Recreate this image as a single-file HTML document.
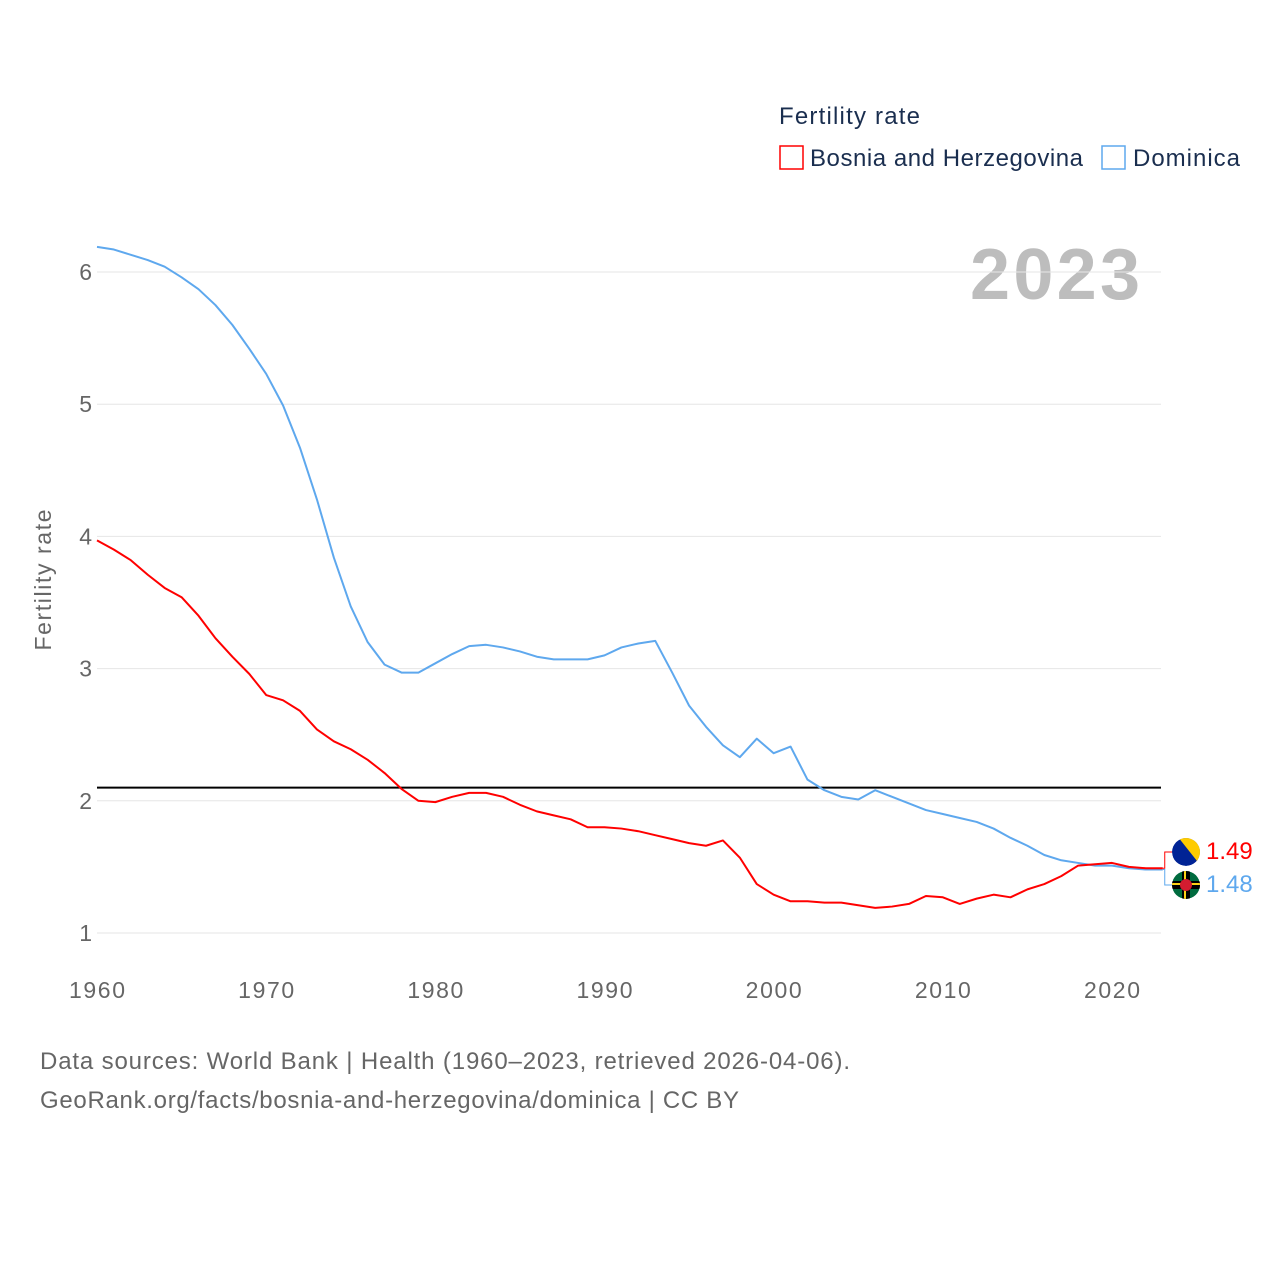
<!DOCTYPE html>
<html><head><meta charset="utf-8"><style>
body{margin:0;background:#fff;font-family:"Liberation Sans",sans-serif;}
svg text{font-family:"Liberation Sans",sans-serif;}
</style></head><body>
<svg id="chart" width="1280" height="1280" xmlns="http://www.w3.org/2000/svg">
<defs><clipPath id="cb"><circle cx="1186" cy="852" r="14"/></clipPath><clipPath id="cd"><circle cx="1186" cy="885" r="14"/></clipPath></defs>
<text x="779" y="124" font-size="24" fill="#1a2e4f" textLength="141">Fertility rate</text>
<g><rect x="780" y="146" width="23" height="23" fill="none" stroke="#f00" stroke-width="1.5"/><text x="810" y="166" font-size="24" fill="#1a2e4f" textLength="273">Bosnia and Herzegovina</text></g>
<g><rect x="1102" y="146" width="23" height="23" fill="none" stroke="#5ea8ee" stroke-width="1.5"/><text x="1133" y="166" font-size="24" fill="#1a2e4f" textLength="107">Dominica</text></g>
<text x="1140" y="299" font-size="72" font-weight="bold" fill="#bdbdbd" text-anchor="end" textLength="170">2023</text>
<text transform="translate(51,580) rotate(-90)" font-size="23" fill="#666" text-anchor="middle" textLength="141">Fertility rate</text>
<g id="grid"></g><g id="marks"></g>
<text x="40" y="1069" font-size="24" fill="#666" textLength="810">Data sources: World Bank | Health (1960–2023, retrieved 2026-04-06).</text>
<text x="40" y="1108" font-size="24" fill="#666" textLength="699">GeoRank.org/facts/bosnia-and-herzegovina/dominica | CC BY</text>
</svg>
<script>
const years=[];for(let y=1960;y<=2023;y++)years.push(y);
const yTicks=[1,2,3,4,5,6];
const xTicks=[1960,1970,1980,1990,2000,2010,2020];
const replacementRate=2.1;
const dominica=[6.19,6.17,6.13,6.09,6.04,5.96,5.87,5.75,5.60,5.42,5.23,4.99,4.67,4.28,3.84,3.47,3.20,3.03,2.97,2.97,3.04,3.11,3.17,3.18,3.16,3.13,3.09,3.07,3.07,3.07,3.10,3.16,3.19,3.21,2.97,2.72,2.56,2.42,2.33,2.47,2.36,2.41,2.16,2.08,2.03,2.01,2.08,2.03,1.98,1.93,1.90,1.87,1.84,1.79,1.72,1.66,1.59,1.55,1.53,1.51,1.51,1.49,1.48,1.48];
const bosnia=[3.97,3.90,3.82,3.71,3.61,3.54,3.40,3.23,3.09,2.96,2.80,2.76,2.68,2.54,2.45,2.39,2.31,2.21,2.09,2.00,1.99,2.03,2.06,2.06,2.03,1.97,1.92,1.89,1.86,1.80,1.80,1.79,1.77,1.74,1.71,1.68,1.66,1.70,1.57,1.37,1.29,1.24,1.24,1.23,1.23,1.21,1.19,1.20,1.22,1.28,1.27,1.22,1.26,1.29,1.27,1.33,1.37,1.43,1.51,1.52,1.53,1.50,1.49,1.49];
const X=y=>97+(y-1960)*(1015/60);
const Y=v=>933-(v-1)*132.2;
const NS="http://www.w3.org/2000/svg";
const mk=(t,a,p)=>{const e=document.createElementNS(NS,t);for(const k in a)e.setAttribute(k,a[k]);p.appendChild(e);return e;};
const grid=document.getElementById('grid'),marks=document.getElementById('marks');
yTicks.forEach(v=>{
 const l=mk('line',{x1:97,x2:1161,y1:Y(v),y2:Y(v),stroke:'#e6e6e6','stroke-width':1},grid);
 
 
 const t=mk('text',{x:92,y:Y(v)+8,'font-size':23,fill:'#666','text-anchor':'end'},grid);t.textContent=v;
 
 
});
xTicks.forEach(v=>{
 const t=mk('text',{x:X(v),y:998,'font-size':23,fill:'#666','text-anchor':'middle',textLength:56},grid);t.textContent=v;
 
 
});
const rl=mk('line',{x1:97,x2:1161,y1:Y(replacementRate),y2:Y(replacementRate),stroke:'#000','stroke-width':2},marks);


function line(d,c,n){const p=mk('polyline',{points:d.map((v,i)=>X(years[i])+','+Y(v)).join(' '),fill:'none',stroke:c,'stroke-width':2,'stroke-linejoin':'round'},marks);
 
 }
line(dominica,'#5ea8ee','dominica-line');
line(bosnia,'#f00','bosnia-line');
const ex=X(2023);
const yb=Y(bosnia[63]),yd=Y(dominica[63]);
const lb=852,ld=885;
mk('polyline',{points:`${ex},${yb} ${ex+2},${yb} ${ex+2},${lb} ${ex+10},${lb}`,fill:'none',stroke:'#f00','stroke-width':1},marks);
mk('polyline',{points:`${ex},${yd} ${ex+2},${yd} ${ex+2},${ld} ${ex+10},${ld}`,fill:'none',stroke:'#5ea8ee','stroke-width':1},marks);
const fb=mk('g',{'clip-path':'url(#cb)'},marks);


mk('circle',{cx:1186,cy:852,r:14,fill:'#002395'},fb);
mk('path',{d:'M1178,837 L1201,837 L1201,866 Z',fill:'#fecb00'},fb);
const fd=mk('g',{'clip-path':'url(#cd)'},marks);


mk('circle',{cx:1186,cy:885,r:14,fill:'#006b3f'},fd);
mk('rect',{x:1172,y:881,width:28,height:8,fill:'#000'},fd);
mk('rect',{x:1182,y:871,width:8,height:28,fill:'#000'},fd);
mk('rect',{x:1172,y:883,width:28,height:2,fill:'#fcd116'},fd);
mk('rect',{x:1184,y:871,width:2,height:28,fill:'#fcd116'},fd);
mk('circle',{cx:1186,cy:885,r:6,fill:'#d41c30'},fd);
const tb=mk('text',{x:1206,y:859,'font-size':24,fill:'#f00'},marks);tb.textContent=bosnia[63].toFixed(2);


const td=mk('text',{x:1206,y:892,'font-size':24,fill:'#5ea8ee'},marks);td.textContent=dominica[63].toFixed(2);


</script>
</body></html>
